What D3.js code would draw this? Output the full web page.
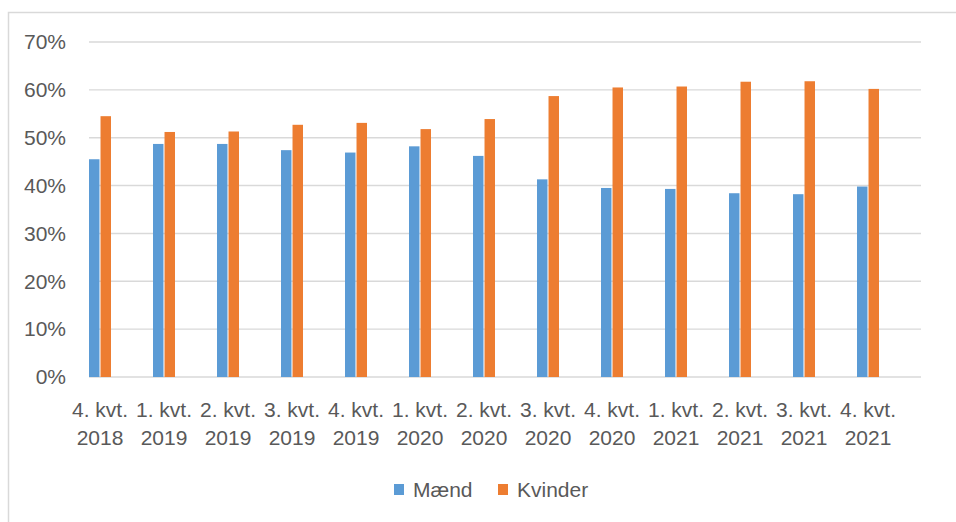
<!DOCTYPE html>
<html>
<head>
<meta charset="utf-8">
<script src="https://cdn.jsdelivr.net/npm/d3@7"></script>
<style>
	body { margin: 0; background: #fff; }
	svg text { font-family: 'Liberation Sans', Arial, sans-serif; fill: #595959; }
</style>
</head>
<body>
<svg id="chart" width="956" height="522"></svg>
<script>
'use strict';

let quarters = ['4. kvt.', '1. kvt.', '2. kvt.', '3. kvt.', '4. kvt.', '1. kvt.', '2. kvt.',
	'3. kvt.', '4. kvt.', '1. kvt.', '2. kvt.', '3. kvt.', '4. kvt.'];
let years = ['2018', '2019', '2019', '2019', '2019', '2020', '2020', '2020', '2020', '2021', '2021', '2021', '2021'];
let maend = [45.5, 48.7, 48.7, 47.4, 46.9, 48.2, 46.2, 41.3, 39.5, 39.3, 38.4, 38.2, 39.8];
let kvinder = [54.5, 51.2, 51.3, 52.7, 53.1, 51.8, 53.9, 58.7, 60.5, 60.7, 61.7, 61.8, 60.2];
let yTicks = [0, 10, 20, 30, 40, 50, 60, 70];
let seriesNames = ['Mænd', 'Kvinder'];
let colors = ['#5b9bd5', '#ed7d31'];

let opt = {
	left: 89,
	right: 921,
	top: 42,
	bottom: 377,
	barWidth: 10,
	fontSize: 21
};

let svg = d3.select('#chart');

// outer frame
svg.append('rect')
	.attr('x', 8.5).attr('y', 12.5)
	.attr('width', 1000).attr('height', 600)
	.attr('fill', 'none')
	.attr('stroke', '#d9d9d9')
	.attr('stroke-width', 1.5);

let keys = quarters.map((q, i) => i);

let x = d3.scalePoint()
	.domain(keys)
	.range([100, 868]);

let xSub = d3.scaleBand()
	.domain([0, 1])
	.range([-11, 11])
	.paddingInner(0.09);

let y = d3.scaleLinear()
	.domain([0, 70])
	.range([opt.bottom, opt.top]);

// grid
svg.append('g')
	.selectAll('line')
	.data(yTicks)
	.join('line')
	.attr('x1', opt.left)
	.attr('x2', opt.right)
	.attr('y1', d => y(d))
	.attr('y2', d => y(d))
	.attr('stroke', '#d9d9d9')
	.attr('stroke-width', 1.4);

// y labels
svg.append('g')
	.selectAll('text')
	.data(yTicks)
	.join('text')
	.attr('x', 66)
	.attr('y', d => y(d))
	.attr('dy', '0.35em')
	.attr('text-anchor', 'end')
	.style('font-size', opt.fontSize + 'px')
	.text(d => d + '%');

// bars
let data = [maend, kvinder];
data.forEach((values, s) => {
	svg.append('g')
		.selectAll('rect')
		.data(values)
		.join('rect')
		.attr('x', (d, i) => x(i) + xSub(s))
		.attr('width', xSub.bandwidth())
		.attr('y', d => y(d))
		.attr('height', d => y(0) - y(d))
		.attr('fill', colors[s]);
});

// x labels
let xl = svg.append('g')
	.selectAll('text')
	.data(keys)
	.join('text')
	.attr('text-anchor', 'middle')
	.style('font-size', opt.fontSize + 'px');

xl.append('tspan')
	.attr('x', d => x(d))
	.attr('y', 417)
	.text(d => quarters[d]);

xl.append('tspan')
	.attr('x', d => x(d))
	.attr('y', 445)
	.text(d => years[d]);

// legend
let legend = svg.append('g');
let legendX = [394, 498];
seriesNames.forEach((name, i) => {
	legend.append('rect')
		.attr('x', legendX[i])
		.attr('y', 484)
		.attr('width', 10)
		.attr('height', 11)
		.attr('fill', colors[i]);
	legend.append('text')
		.attr('x', legendX[i] + 19)
		.attr('y', 497)
		.style('font-size', opt.fontSize + 'px')
		.text(name);
});
</script>
</body>
</html>
